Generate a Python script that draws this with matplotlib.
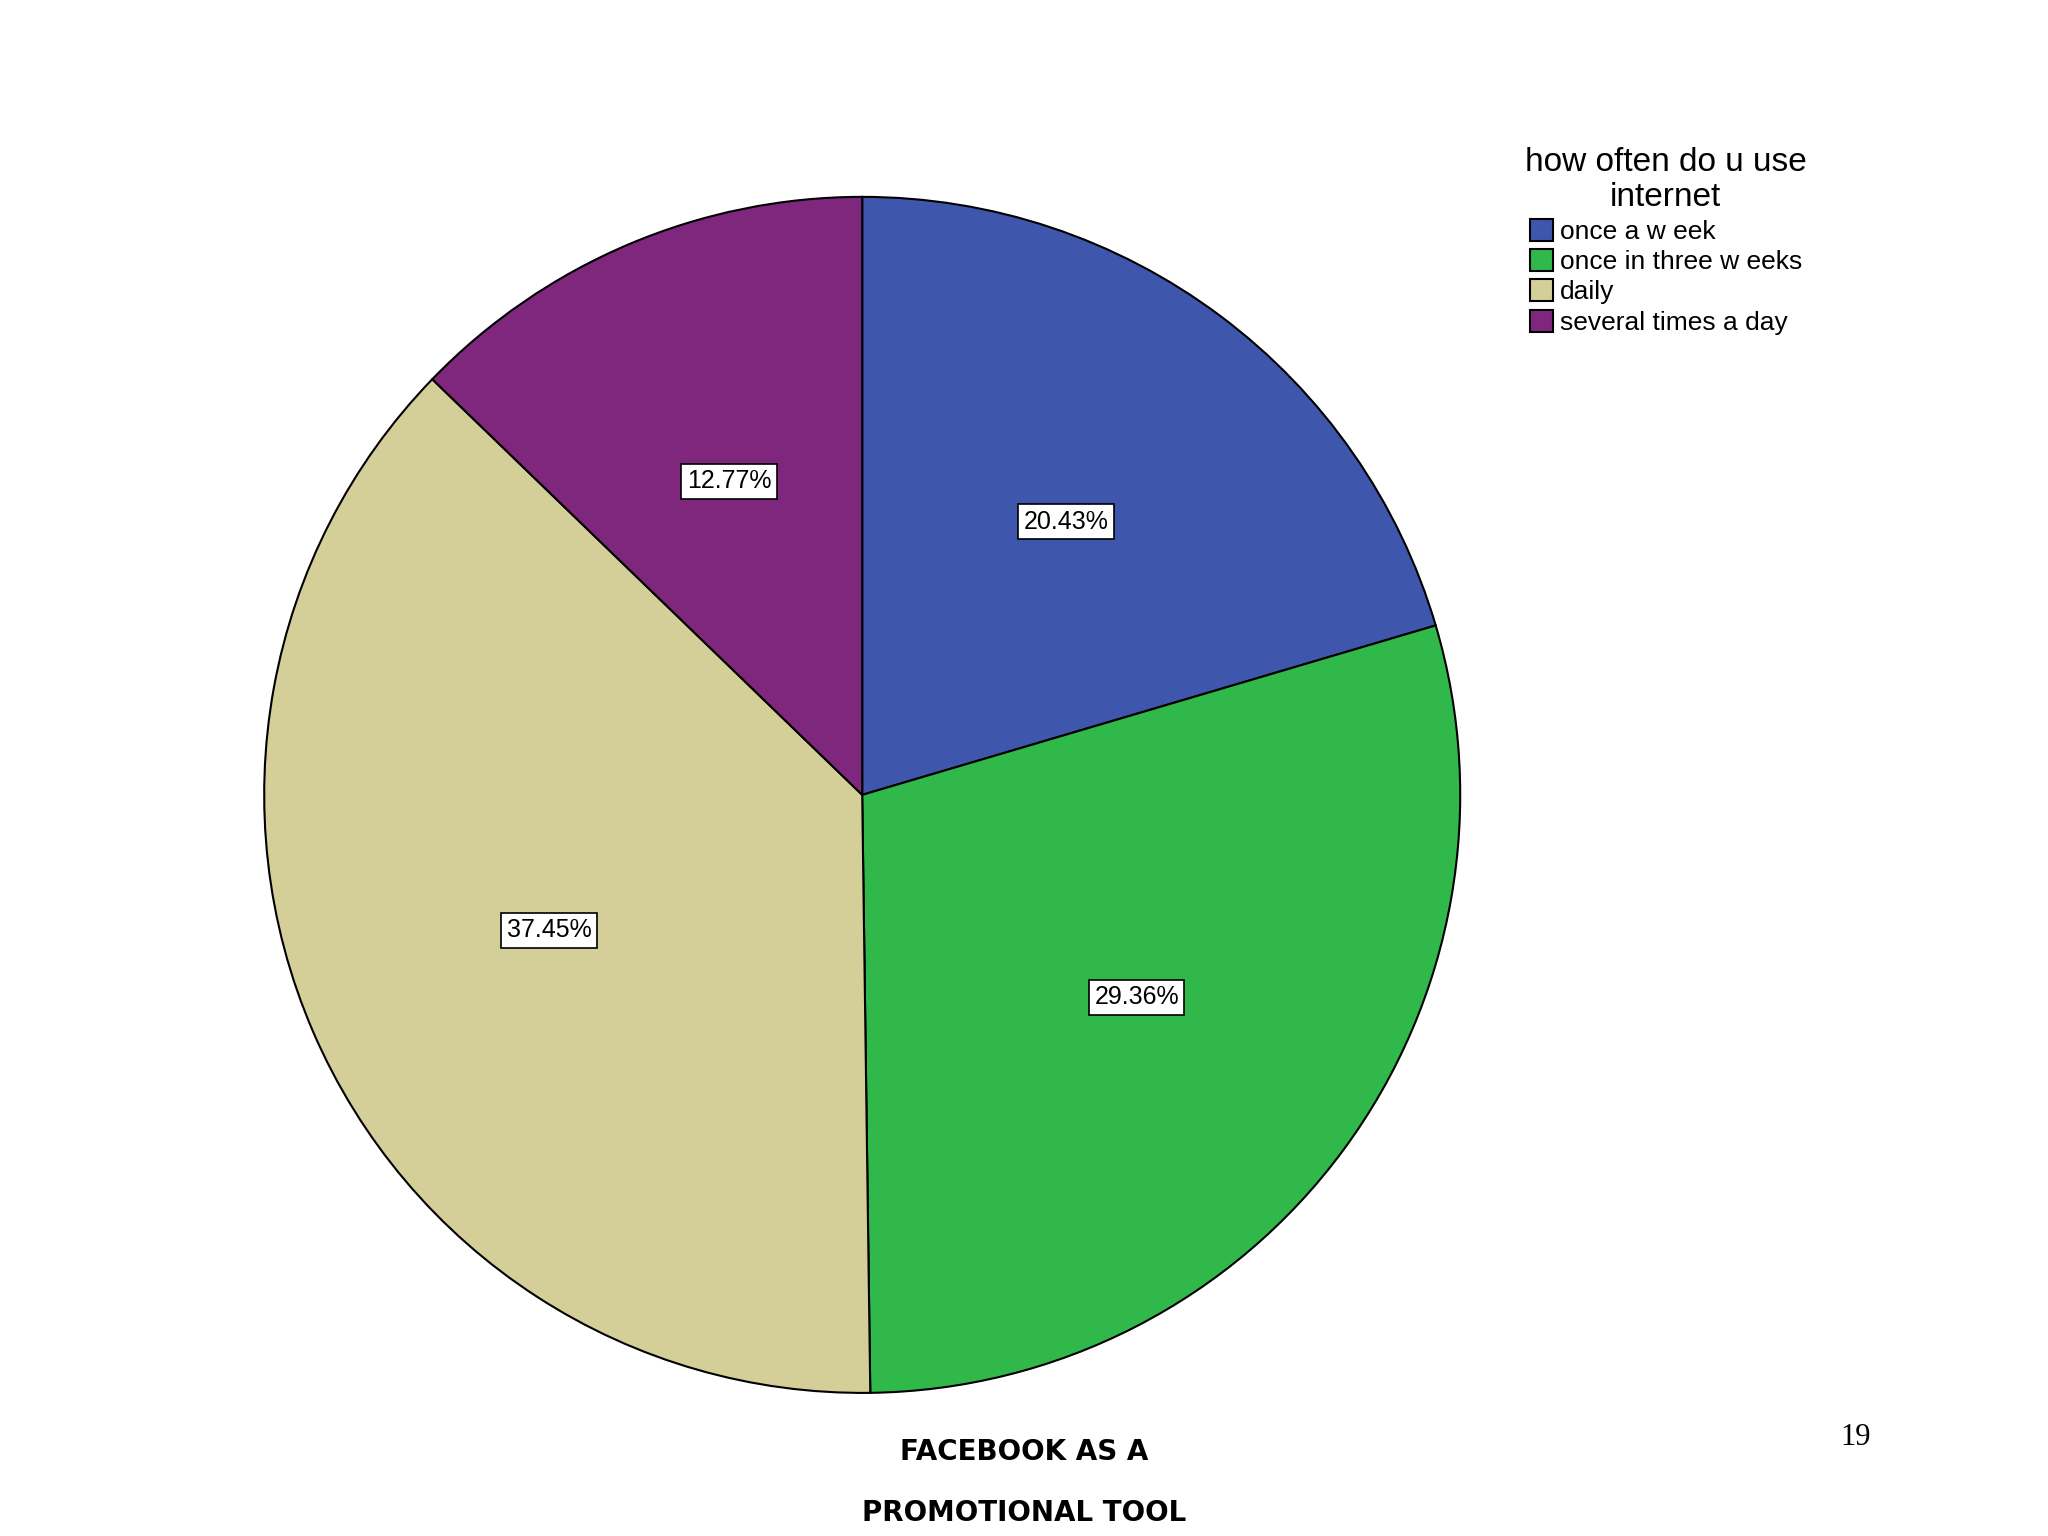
import matplotlib.pyplot as plt

categories = ["once a w eek", "once in three w eeks", "daily", "several times a day"]
shares = [20.43, 29.36, 37.45, 12.77]
colors = ["#3F56AD", "#31B84B", "#D4CE98", "#7E277C"]

fig = plt.figure(figsize=(20.48, 15.36), dpi=100)
ax = fig.add_axes([0.128, 0.092, 0.586, 0.781])

wedges, texts, autotexts = ax.pie(
    shares,
    colors=colors,
    startangle=90,
    counterclock=False,
    autopct="%.2f%%",
    pctdistance=0.57,
    wedgeprops=dict(edgecolor="black", linewidth=1.5),
    textprops=dict(fontsize=18, family="Liberation Sans"),
)
for t in autotexts:
    t.set_bbox(dict(facecolor="white", edgecolor="black", linewidth=1.2, pad=4))
ax.set_xlim(-1.003, 1.003)
ax.set_ylim(-1.003, 1.003)
ax.set_aspect("equal")

leg = fig.legend(
    wedges, categories,
    loc="upper left", bbox_to_anchor=(0.733, 0.92),
    title="how often do u use\ninternet",
    frameon=False, prop=dict(family="Liberation Sans", size=19),
    handlelength=0.9, handleheight=0.9, handletextpad=0.25, labelspacing=0.2,
)
title = leg.get_title()
title.set_fontsize(24)
title.set_family("Liberation Sans")
title.set_multialignment("center")
leg._legend_box.align = "center"
for h in leg.legend_handles:
    h.set_edgecolor("black")
    h.set_linewidth(1.5)

fig.text(0.5, 0.055, "FACEBOOK AS A", ha="center", va="center",
         fontsize=20, fontweight="heavy", family="DejaVu Sans")
fig.text(0.5, 0.015, "PROMOTIONAL TOOL", ha="center", va="center",
         fontsize=20, fontweight="heavy", family="DejaVu Sans")
fig.text(0.906, 0.064, "19", ha="center", va="center",
         fontsize=22, family="Liberation Serif")

fig.savefig("out.png", dpi=100, facecolor="white")
